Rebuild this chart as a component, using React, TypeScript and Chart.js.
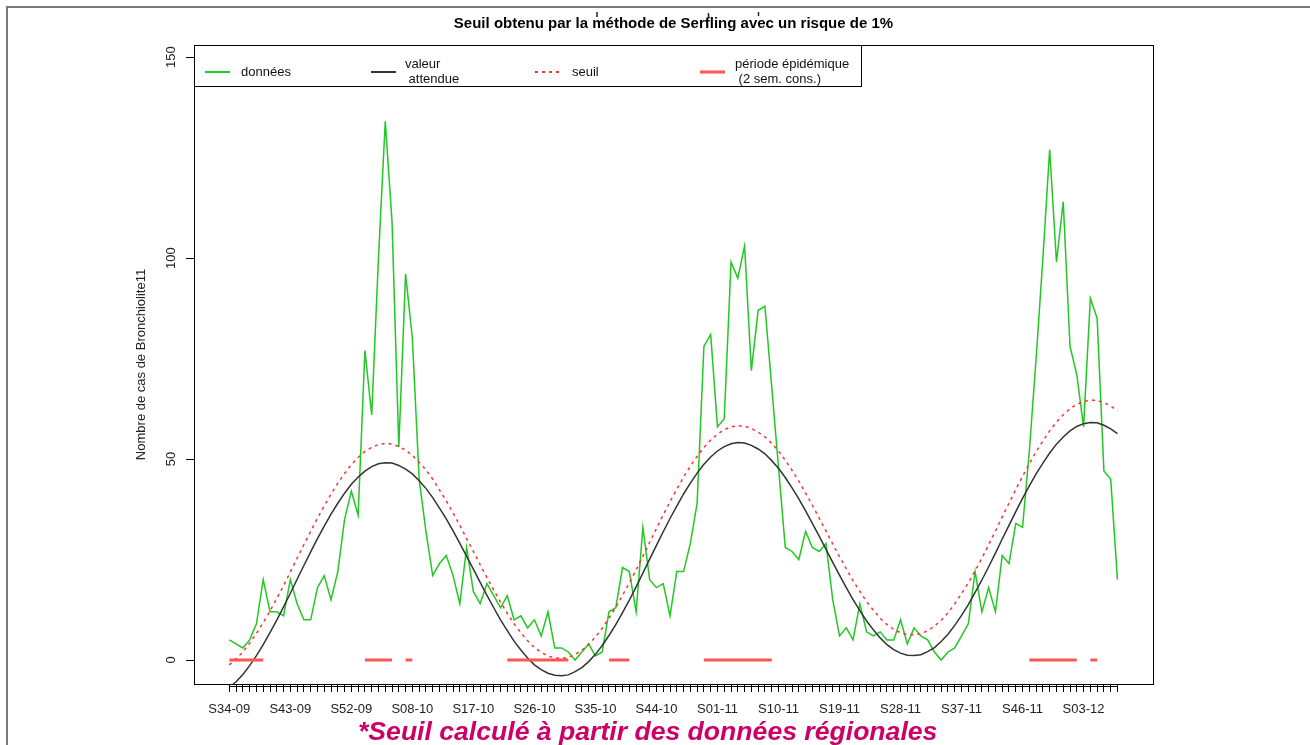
import React, { useEffect, useRef } from "react";
import { Chart, registerables } from "chart.js";

Chart.register(...registerables);

// ---------- texts ----------
const titre = "Seuil obtenu par la méthode de Serfling avec un risque de 1%";
const titreAxeY = "Nombre de cas de Bronchiolite11";
const noteBas = "*Seuil calculé à partir des données régionales";
const legendeDonnees = ["données"];
const legendeAttendue = ["valeur", " attendue"];
const legendeSeuil = ["seuil"];
const legendePeriode = ["période épidémique", " (2 sem. cons.)"];

// ---------- categories (weeks S34-09 .. S08-12) ----------
const saisons = [
  { annee: "09", debut: 34, fin: 53 },
  { annee: "10", debut: 1, fin: 52 },
  { annee: "11", debut: 1, fin: 52 },
  { annee: "12", debut: 1, fin: 8 },
];
const semaines: string[] = saisons.flatMap((s) =>
  Array.from({ length: s.fin - s.debut + 1 }, (_, k) => `S${String(s.debut + k).padStart(2, "0")}-${s.annee}`)
);
const pasEtiquettes = 9;
const yTicks = [0, 50, 100, 150];

// ---------- series ----------
const donnees = [
  5, 4, 3, 5, 9, 20, 12, 12, 11, 20,
  14, 10, 10, 18, 21, 15, 22, 35, 42, 36,
  77, 61, 100, 134, 109, 53, 96, 80, 45, 32,
  21, 24, 26, 21, 14, 28, 17, 14, 19, 16,
  13, 16, 10, 11, 8, 10, 6, 12, 3, 3,
  2, 0, 2, 4, 1, 2, 12, 13, 23, 22,
  12, 33, 20, 18, 19, 11, 22, 22, 29, 39,
  78, 81, 58, 60, 99, 95, 103, 72, 87, 88,
  68, 48, 28, 27, 25, 32, 28, 27, 29, 15,
  6, 8, 5, 14, 7, 6, 7, 5, 5, 10,
  4, 8, 6, 5, 2, 0, 2, 3, 6, 9,
  22, 12, 18, 12, 26, 24, 34, 33, 52, 75,
  100, 127, 99, 114, 78, 71, 58, 90, 85, 47,
  45, 20,
];

const valeurAttendue = [
  -6.9, -5.4, -3.6, -1.4, 1.1, 3.8, 6.8, 9.9, 13.2, 16.6,
  20.1, 23.5, 26.9, 30.2, 33.3, 36.3, 39.0, 41.5, 43.7, 45.5,
  47.0, 48.1, 48.8, 49.1, 49.0, 48.4, 47.5, 46.3, 44.6, 42.7,
  40.4, 37.8, 35.1, 32.1, 29.0, 25.8, 22.6, 19.3, 16.1, 13.0,
  10.0, 7.3, 4.7, 2.5, 0.5, -1.2, -2.4, -3.3, -3.8, -3.9,
  -3.7, -2.9, -1.9, -0.4, 1.4, 3.6, 6.1, 8.8, 11.8, 14.9,
  18.2, 21.6, 25.1, 28.5, 31.9, 35.2, 38.3, 41.3, 44.0, 46.5,
  48.7, 50.5, 52.0, 53.1, 53.8, 54.1, 54.0, 53.4, 52.5, 51.3,
  49.6, 47.7, 45.4, 42.8, 40.1, 37.1, 34.0, 30.8, 27.6, 24.3,
  21.1, 18.0, 15.0, 12.3, 9.7, 7.5, 5.5, 3.8, 2.6, 1.7,
  1.2, 1.1, 1.3, 2.1, 3.1, 4.6, 6.4, 8.6, 11.1, 13.8,
  16.8, 19.9, 23.2, 26.6, 30.1, 33.5, 36.9, 40.2, 43.3, 46.3,
  49.0, 51.5, 53.7, 55.5, 57.0, 58.1, 58.8, 59.1, 59.0, 58.4,
  57.5, 56.3,
];

const seuil = [
  -1.2, 0.3, 2.0, 4.2, 6.6, 9.3, 12.2, 15.3, 18.5, 21.9,
  25.3, 28.7, 32.0, 35.3, 38.3, 41.3, 44.0, 46.4, 48.6, 50.4,
  51.9, 52.9, 53.6, 53.9, 53.7, 53.1, 52.2, 50.9, 49.2, 47.3,
  45.0, 42.3, 39.6, 36.6, 33.5, 30.2, 27.0, 23.7, 20.5, 17.4,
  14.4, 11.6, 9.0, 6.8, 4.8, 3.1, 1.9, 1.0, 0.5, 0.4,
  0.6, 1.4, 2.4, 3.9, 5.7, 7.9, 10.4, 13.1, 16.1, 19.2,
  22.4, 25.8, 29.3, 32.7, 36.1, 39.4, 42.5, 45.5, 48.2, 50.7,
  52.9, 54.7, 56.2, 57.3, 58.0, 58.3, 58.2, 57.6, 56.7, 55.5,
  53.9, 52.0, 49.7, 47.2, 44.5, 41.5, 38.5, 35.3, 32.1, 28.9,
  25.7, 22.7, 19.7, 17.1, 14.5, 12.4, 10.4, 8.8, 7.6, 6.8,
  6.3, 6.3, 6.5, 7.3, 8.4, 9.9, 11.7, 14.0, 16.5, 19.2,
  22.2, 25.3, 28.7, 32.1, 35.6, 39.0, 42.4, 45.7, 48.8, 51.8,
  54.5, 57.0, 59.2, 61.0, 62.5, 63.6, 64.3, 64.6, 64.6, 64.0,
  63.2, 62.0,
];

// epidemic periods: [first week index, last week index]
const periodesEpidemiques = [
  [0, 5], [20, 24], [26, 27], [41, 50], [56, 59], [70, 80], [118, 125], [127, 128],
];

// ---------- styles ----------
const FONT = "'Liberation Sans', Arial, Helvetica, sans-serif";
const VERT = "#22c822";
const NOIR = "#333333";
const ROUGE = "#ff3030";
const ROUGE_P = "#ff5555";
const TIRETS = [3, 4];

const pts = (arr: (number | null)[]) => arr.map((v, i) => ({ x: i, y: v }));

const cadrePlugin = {
  id: "cadre",
  afterDraw(chart: any) {
    const { ctx, chartArea: a, scales } = chart;
    ctx.save();
    // plot box
    ctx.strokeStyle = "#000";
    ctx.lineWidth = 1;
    const L = Math.round(a.left) + 0.5;
    const T = Math.round(a.top) + 0.5;
    const R = Math.round(a.right) + 0.5;
    const B = Math.round(a.bottom) + 0.5;
    ctx.strokeRect(L, T, R - L, B - T);

    // R-style x axis line joining the week ticks
    const x0 = scales.x.getPixelForValue(0);
    const x1 = scales.x.getPixelForValue(semaines.length - 1);
    ctx.beginPath();
    ctx.moveTo(x0, B + 2);
    ctx.lineTo(x1, B + 2);
    ctx.stroke();

    // legend
    const legR = 861.5;
    const legB = 86.5;
    ctx.fillStyle = "#fff";
    ctx.fillRect(L, T, legR - L, legB - T);
    ctx.strokeStyle = "#000";
    ctx.strokeRect(L, T, legR - L, legB - T);
    const items = [
      { lignes: legendeDonnees, couleur: VERT, tirets: [] as number[], largeur: 2, xl: 205, xt: 241 },
      { lignes: legendeAttendue, couleur: NOIR, tirets: [] as number[], largeur: 2, xl: 371, xt: 405 },
      { lignes: legendeSeuil, couleur: ROUGE, tirets: TIRETS, largeur: 2, xl: 535, xt: 572 },
      { lignes: legendePeriode, couleur: ROUGE_P, tirets: [] as number[], largeur: 3, xl: 700, xt: 735 },
    ];
    const yc = 72;
    ctx.font = `13px ${FONT}`;
    ctx.textBaseline = "middle";
    ctx.textAlign = "left";
    for (const it of items) {
      ctx.beginPath();
      ctx.setLineDash(it.tirets);
      ctx.strokeStyle = it.couleur;
      ctx.lineWidth = it.largeur;
      ctx.moveTo(it.xl, yc);
      ctx.lineTo(it.xl + 25, yc);
      ctx.stroke();
      ctx.setLineDash([]);
      ctx.fillStyle = "#111";
      if (it.lignes.length === 1) {
        ctx.fillText(it.lignes[0], it.xt, yc);
      } else {
        ctx.fillText(it.lignes[0], it.xt, yc - 7.5);
        ctx.fillText(it.lignes[1], it.xt, yc + 7.5);
      }
    }

    // outer frame of the page
    ctx.strokeStyle = "#7a7a7a";
    ctx.lineWidth = 2;
    ctx.beginPath();
    ctx.moveTo(7, 745);
    ctx.lineTo(7, 7);
    ctx.lineTo(1310, 7);
    ctx.stroke();

    // remnants of a cropped text line above the title
    ctx.strokeStyle = "#222";
    ctx.lineWidth = 1.5;
    for (const [x, y1, y2] of [[597, 12, 17], [708.5, 13, 18], [758.5, 12, 16]]) {
      ctx.beginPath();
      ctx.moveTo(x, y1);
      ctx.lineTo(x, y2);
      ctx.stroke();
    }
    ctx.restore();
  },
};

export default function App() {
  const ref = useRef<HTMLCanvasElement | null>(null);

  useEffect(() => {
    if (!ref.current) return;
    const epid = semaines.map((_, i) =>
      periodesEpidemiques.some(([d, f]) => i >= d && i <= f) ? 0 : null
    );
    const chart = new Chart(ref.current, {
      type: "line",
      data: {
        datasets: [
          { label: "période épidémique", data: pts(epid), borderColor: ROUGE_P, borderWidth: 3, pointRadius: 0, spanGaps: false, tension: 0 },
          { label: "seuil", data: pts(seuil), borderColor: ROUGE, borderWidth: 1.5, borderDash: TIRETS, pointRadius: 0, tension: 0 },
          { label: "valeur attendue", data: pts(valeurAttendue), borderColor: NOIR, borderWidth: 1.5, pointRadius: 0, tension: 0 },
          { label: "données", data: pts(donnees), borderColor: VERT, borderWidth: 1.5, pointRadius: 0, tension: 0 },
        ],
      },
      options: {
        responsive: false,
        animation: false,
        events: [],
        layout: { padding: { left: 0, right: 157, top: 0, bottom: 0 } },
        plugins: {
          legend: { display: false },
          tooltip: { enabled: false },
          title: {
            display: true,
            text: titre,
            fullSize: false,
            color: "#000",
            font: { family: FONT, size: 15, weight: "bold" },
            padding: { top: 15, bottom: 12 },
          },
        },
        scales: {
          x: {
            type: "linear",
            min: -5.21,
            max: 136.24,
            afterBuildTicks: (s: any) => {
              s.ticks = semaines.map((_, i) => ({ value: i }));
            },
            afterFit: (s: any) => {
              s.height = 61;
            },
            grid: { drawOnChartArea: false, drawTicks: true, tickLength: 8, tickColor: "#000", tickWidth: 1 },
            border: { display: false },
            ticks: {
              autoSkip: false,
              maxRotation: 0,
              minRotation: 0,
              padding: 10,
              color: "#222",
              font: { family: FONT, size: 13 },
              callback: (_v: any, i: number) => (i % pasEtiquettes === 0 ? semaines[i] : ""),
            },
          },
          y: {
            type: "linear",
            min: -5.97,
            max: 153,
            afterBuildTicks: (s: any) => {
              s.ticks = yTicks.map((v) => ({ value: v }));
            },
            afterFit: (s: any) => {
              s.width = 194;
            },
            grid: { drawOnChartArea: false, tickLength: 8, tickColor: "#000", tickWidth: 1 },
            border: { display: false },
            ticks: {
              minRotation: 90,
              maxRotation: 90,
              crossAlign: "center",
              padding: 3.5,
              color: "#222",
              font: { family: FONT, size: 13 },
              callback: (v: any) => String(v),
            },
            title: {
              display: true,
              text: titreAxeY,
              color: "#222",
              font: { family: FONT, size: 13 },
              padding: { top: 134, bottom: 0 },
            },
          },
        },
      },
      plugins: [cadrePlugin],
    } as any);
    return () => chart.destroy();
  }, []);

  return (
    <div style={{ position: "relative", width: 1310, height: 745, overflow: "hidden", background: "#fff" }}>
      <style>{`body{margin:0;background:#fff}`}</style>
      <canvas ref={ref} width={1310} height={745} style={{ display: "block" }} />
      <div
        style={{
          position: "absolute",
          left: 358,
          top: 718,
          fontFamily: FONT,
          fontSize: 26.6,
          lineHeight: "26.6px",
          fontWeight: "bold",
          fontStyle: "italic",
          color: "#cc0066",
          whiteSpace: "nowrap",
        }}
      >
        {noteBas}
      </div>
    </div>
  );
}
